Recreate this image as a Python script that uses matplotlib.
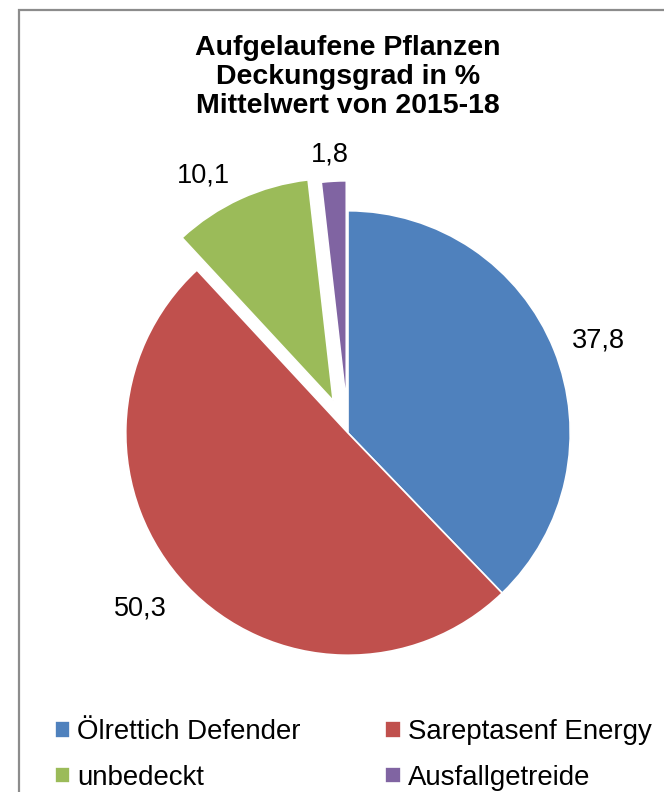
import matplotlib
matplotlib.use("Agg")
import numpy as np
import matplotlib.pyplot as plt
from matplotlib.patches import Rectangle

plt.rcParams['font.family'] = ['Liberation Sans', 'DejaVu Sans']

# data
categories = ['Ölrettich Defender', 'Sareptasenf Energy', 'unbedeckt', 'Ausfallgetreide']
values = [37.8, 50.3, 10.1, 1.8]
explode = [0, 0, 0.16, 0.135]
colors = ['#4F81BD', '#C0504D', '#9BBB59', '#8064A2']
title = 'Aufgelaufene Pflanzen\nDeckungsgrad in %\nMittelwert von 2015-18'

# label placement (distance from wedge apex in radii, angle nudge in degrees)
label_dist = [1.2, 1.225, 1.17, 1.12]
label_shift = [-1.6, -3.2, 5.2, 0.5]

W, H = 664, 792
fig = plt.figure(figsize=(W / 100, H / 100), dpi=100)

# outer frame (cut off at right/bottom like the original)
fig.patches.append(Rectangle((19 / W, -0.05), 1.1, 1 - 10 / H + 0.05, transform=fig.transFigure,
                             fill=False, edgecolor='#8c8c8c', linewidth=1.6))

# square axes centered on the pie center
cx, cy, side = 348, 433, 500
ax = fig.add_axes([(cx - side / 2) / W, (H - cy - side / 2) / H, side / W, side / H])

wedges, _ = ax.pie(values, explode=explode, colors=colors, startangle=90, counterclock=False,
                   wedgeprops=dict(edgecolor='white', linewidth=1.2))
for w, v, d, s in zip(wedges, values, label_dist, label_shift):
    mid = np.deg2rad((w.theta1 + w.theta2) / 2)
    ang = mid + np.deg2rad(s)
    x = w.center[0] + d * np.cos(ang)
    y = w.center[1] + d * np.sin(ang)
    ax.text(x, y, f'{v:.1f}'.replace('.', ','), ha='center', va='center', fontsize=19.5)
ax.set_xlim(-1.125, 1.125)
ax.set_ylim(-1.125, 1.125)
ax.set_aspect('equal')
ax.axis('off')

fig.text(cx / W, 1 - 77 / H, title, ha='center', va='center', fontsize=20.5, fontweight='bold',
         linespacing=1.17)

# legend filled row by row
order = [0, 2, 1, 3]
fig.legend([wedges[i] for i in order], [categories[i] for i in order], ncol=2, loc='center left',
           bbox_to_anchor=(55 / W, 1 - 755 / H), frameon=False, fontsize=19.9,
           handlelength=0.56, handleheight=0.52, handletextpad=0.25,
           columnspacing=3.05, labelspacing=0.7, borderaxespad=0, borderpad=0)

fig.savefig('out.png', dpi=100)
